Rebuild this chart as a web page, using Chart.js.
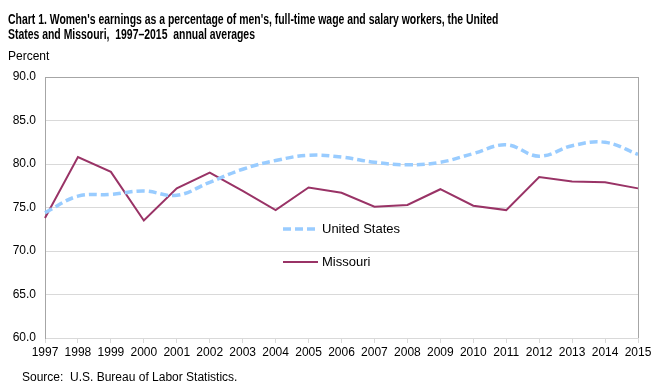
<!DOCTYPE html>
<html>
<head>
<meta charset="utf-8">
<script src="https://cdn.jsdelivr.net/npm/chart.js@4/dist/chart.umd.min.js"></script>
<style>
  html, body { margin: 0; padding: 0; background: #fff; }
  #wrap { position: relative; width: 669px; height: 392px; overflow: hidden; }
  #chart { position: absolute; left: 0; top: 0; }
  .txt { position: absolute; color: #000; white-space: nowrap; font-family: "Liberation Sans", Arial, sans-serif; }
  #title { left: 8px; top: 12px; font-weight: bold; font-size: 14px; line-height: 15px; transform: scaleX(0.745); transform-origin: 0 0; }
  #unit { left: 8px; top: 49px; font-size: 12px; }
  #source { left: 22px; top: 370px; font-size: 12px; }
</style>
</head>
<body>
<div id="wrap">
  <canvas id="chart" width="669" height="392"></canvas>
  <div class="txt" id="title">Chart 1. Women's earnings as a percentage of men's, full-time wage and salary workers, the United<br>States and Missouri,&nbsp; 1997–2015&nbsp; annual averages</div>
  <div class="txt" id="unit">Percent</div>
  <div class="txt" id="source">Source:&nbsp; U.S. Bureau of Labor Statistics.</div>
</div>
<script>
const years = ["1997","1998","1999","2000","2001","2002","2003","2004","2005","2006","2007","2008","2009","2010","2011","2012","2013","2014","2015"]
const unitedStates = [74.4, 76.3, 76.5, 76.9, 76.4, 77.9, 79.4, 80.4, 81.0, 80.8, 80.2, 79.9, 80.2, 81.2, 82.2, 80.9, 82.1, 82.5, 81.1]
const missouri = [73.8, 80.8, 79.1, 73.5, 77.2, 79.0, 76.9, 74.7, 77.3, 76.7, 75.1, 75.3, 77.1, 75.2, 74.7, 78.5, 78.0, 77.9, 77.2]

const usColor = "#99CCFF"
const moColor = "#993366"

// legend sits inside the plot, plus the right-hand frame line
const framePlugin = {
  id: "frameAndLegend",
  afterDraw(chart){
    const ctx = chart.ctx
    const area = chart.chartArea
    ctx.save()
    ctx.strokeStyle = "#a6a6a6"
    ctx.lineWidth = 1
    ctx.beginPath()
    ctx.moveTo(Math.round(area.right) + 0.5, area.top)
    ctx.lineTo(Math.round(area.right) + 0.5, area.bottom)
    ctx.stroke()

    const items = [
      { label: "United States", color: usColor, dash: [8, 4], width: 3.5, y: 229 },
      { label: "Missouri", color: moColor, dash: [], width: 2, y: 262 }
    ]
    ctx.font = "13px 'Liberation Sans', Arial, sans-serif"
    ctx.textBaseline = "middle"
    items.forEach((item) => {
      ctx.strokeStyle = item.color
      ctx.lineWidth = item.width
      ctx.setLineDash(item.dash)
      ctx.beginPath()
      ctx.moveTo(283, item.y)
      ctx.lineTo(318, item.y)
      ctx.stroke()
      ctx.setLineDash([])
      ctx.fillStyle = "#000"
      ctx.fillText(item.label, 322, item.y)
    })
    ctx.restore()
  }
}

new Chart(document.getElementById("chart"), {
  type: "line",
  data: {
    labels: years,
    datasets: [{
      label: "United States",
      data: unitedStates,
      borderColor: usColor,
      borderWidth: 3.5,
      borderDash: [8, 4],
      tension: 0.4,
      pointRadius: 0,
      fill: false
    }, {
      label: "Missouri",
      data: missouri,
      borderColor: moColor,
      borderWidth: 2,
      tension: 0,
      pointRadius: 0,
      fill: false
    }]
  },
  options: {
    responsive: false,
    animation: false,
    events: [],
    layout: { padding: { left: 0, top: 77, right: 31, bottom: 0 } },
    plugins: {
      legend: { display: false },
      tooltip: { enabled: false },
      title: { display: false }
    },
    scales: {
      x: {
        offset: false,
        grid: { drawOnChartArea: false, color: "#d9d9d9", tickLength: 5 },
        border: { color: "#d9d9d9" },
        ticks: {
          color: "#000",
          font: { family: "'Liberation Sans', Arial, sans-serif", size: 12 },
          padding: 2,
          maxRotation: 0,
          autoSkip: false
        },
        afterFit(scale){ scale.height = 54 }
      },
      y: {
        min: 60,
        max: 90,
        grid: {
          color: (c) => c.tick && c.tick.value === 90 ? "#a6a6a6" : "#d9d9d9",
          tickLength: 0
        },
        border: { color: "#a6a6a6" },
        ticks: {
          stepSize: 5,
          color: "#000",
          padding: 9,
          font: { family: "'Liberation Sans', Arial, sans-serif", size: 12 },
          callback: (v) => Number(v).toFixed(1)
        },
        afterFit(scale){ scale.width = 45 }
      }
    }
  },
  plugins: [framePlugin]
})
</script>
</body>
</html>
